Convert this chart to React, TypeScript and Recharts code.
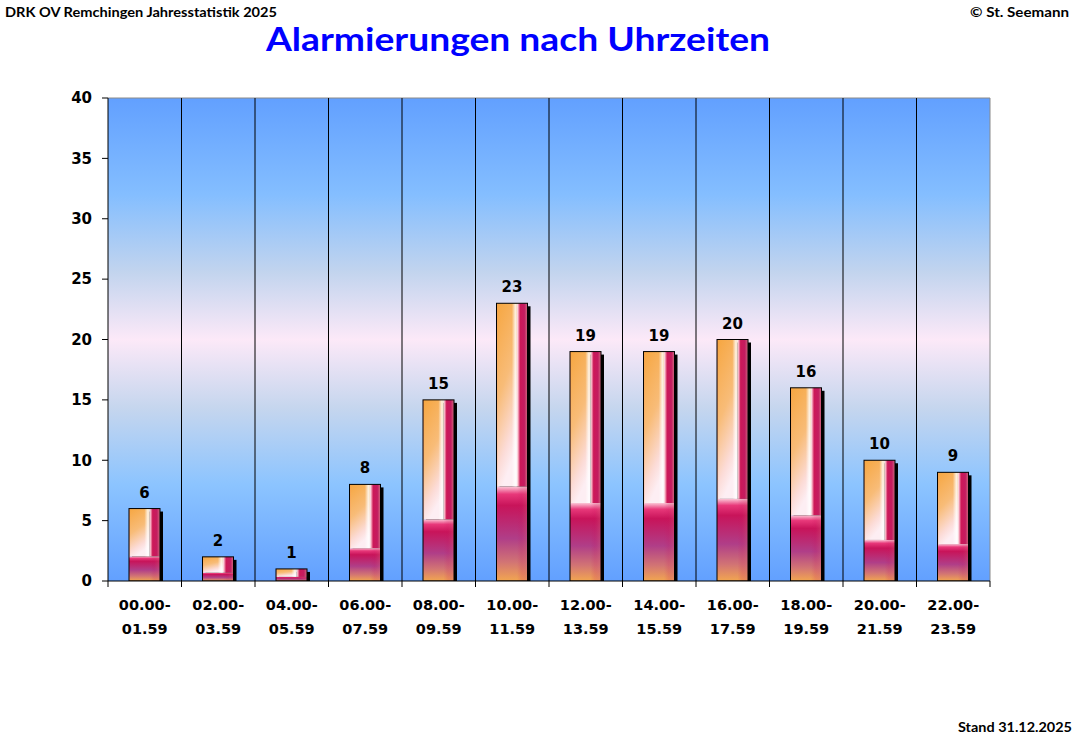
import React from "react";
import { BarChart, Bar, XAxis, YAxis, CartesianGrid, LabelList } from "recharts";

const categories = ["00.00-01.59", "02.00-03.59", "04.00-05.59", "06.00-07.59", "08.00-09.59", "10.00-11.59", "12.00-13.59", "14.00-15.59", "16.00-17.59", "18.00-19.59", "20.00-21.59", "22.00-23.59"];
const alarmierungen = [6, 2, 1, 8, 15, 23, 19, 19, 20, 16, 10, 9];
const yTicks = [0, 5, 10, 15, 20, 25, 30, 35, 40];

const data = categories.map((c, i) => ({ cat: c, value: alarmierungen[i] }));

const FONT = "'DejaVu Sans', Verdana, sans-serif";
const TFONT = "Lato, 'Open Sans', sans-serif";

const BarShape = (props: any) => {
  const { x, y, width, height } = props;
  if (!height || height <= 0) return null;
  const sx = 0.66;
  const sy = 0.66;
  const w1 = width * sx;
  const h1 = height * sy;
  return (
    <g>
      <rect x={x + 3} y={y + 3} width={width} height={height - 3} fill="#000" />
      <rect x={x} y={y} width={w1} height={h1} fill="url(#gTL)" />
      <rect x={x} y={y} width={w1} height={h1} fill="url(#gTLh)" />
      <rect x={x + w1} y={y} width={width - w1} height={h1} fill="url(#gR)" />
      <rect x={x} y={y + h1} width={width} height={height - h1} fill="url(#gB)" />
      <rect x={x + w1} y={y + h1} width={width - w1} height={height - h1} fill="url(#gBR)" />
      <rect x={x} y={y} width={width} height={height} fill="none" stroke="#000" strokeWidth={1} />
    </g>
  );
};

const ValueLabel = (props: any) => {
  const { x, y, width, value } = props;
  return (
    <text x={x + width / 2} y={y - 11} textAnchor="middle" fontFamily={FONT} fontWeight="bold" fontSize={15} fill="#000">
      {value}
    </text>
  );
};

const CatTick = (props: any) => {
  const { x, y, payload, width, visibleTicksCount, index } = props;
  const [a, b] = String(payload.value).split("-");
  const half = width / (visibleTicksCount || categories.length) / 2;
  const isLast = index === (visibleTicksCount || categories.length) - 1;
  return (
    <g>
      <line x1={x - half} x2={x - half} y1={y} y2={y + 6} stroke="#000" strokeWidth={1} />
      {isLast && <line x1={x + half} x2={x + half} y1={y} y2={y + 6} stroke="#000" strokeWidth={1} />}
      <text x={x} y={y + 29} textAnchor="middle" fontFamily={FONT} fontWeight="bold" fontSize={14.5} fill="#000">
        {a + "-"}
      </text>
      <text x={x} y={y + 53} textAnchor="middle" fontFamily={FONT} fontWeight="bold" fontSize={14.5} fill="#000">
        {b}
      </text>
    </g>
  );
};

const innerLines = (p: any) => {
  const o = p.offset;
  const n = categories.length;
  return categories.slice(1).map((_, i) => o.left + (o.width * (i + 1)) / n);
};
const rightLine = (p: any) => [p.offset.left + p.offset.width];
const topLine = (p: any) => [p.offset.top];

export default function App() {
  return (
    <div style={{ position: "absolute", left: 0, top: 0, width: 1074, height: 744, background: "#fff" }}>
      <svg width={0} height={0} style={{ position: "absolute" }}>
        <defs>
          <linearGradient id="bg" x1="0" y1="0" x2="0" y2="1">
            <stop offset="0" stopColor="#62a0ff" />
            <stop offset="0.2" stopColor="#84beff" />
            <stop offset="0.36" stopColor="#c2d4ee" />
            <stop offset="0.5" stopColor="#fce9f8" />
            <stop offset="0.64" stopColor="#c6d6ee" />
            <stop offset="0.8" stopColor="#8cc4ff" />
            <stop offset="1" stopColor="#62a0ff" />
          </linearGradient>
          <linearGradient id="gTL" x1="0" y1="0" x2="0.3" y2="1">
            <stop offset="0" stopColor="#f6a640" />
            <stop offset="0.5" stopColor="#f8bc78" />
            <stop offset="0.85" stopColor="#fcdcd8" />
            <stop offset="1" stopColor="#fdeef3" />
          </linearGradient>
          <linearGradient id="gTLh" x1="0" y1="0" x2="1" y2="0">
            <stop offset="0" stopColor="#f07090" stopOpacity="0.5" />
            <stop offset="0.08" stopColor="#f6a640" stopOpacity="0" />
            <stop offset="0.75" stopColor="#ffffff" stopOpacity="0" />
            <stop offset="0.92" stopColor="#ffffff" stopOpacity="0.8" />
            <stop offset="1" stopColor="#ffffff" stopOpacity="0.6" />
          </linearGradient>
          <linearGradient id="gR" x1="0" y1="0" x2="1" y2="0">
            <stop offset="0" stopColor="#fff2f4" />
            <stop offset="0.12" stopColor="#f5a6ba" />
            <stop offset="0.3" stopColor="#cc1858" />
            <stop offset="0.7" stopColor="#c41c60" />
            <stop offset="1" stopColor="#cf6c80" />
          </linearGradient>
          <linearGradient id="gB" x1="0" y1="0" x2="0" y2="1">
            <stop offset="0" stopColor="#fbc6d6" />
            <stop offset="0.08" stopColor="#e8387a" />
            <stop offset="0.2" stopColor="#c8145a" />
            <stop offset="0.55" stopColor="#b03e88" />
            <stop offset="0.8" stopColor="#d27474" />
            <stop offset="1" stopColor="#f2a650" />
          </linearGradient>
          <linearGradient id="gBR" x1="0" y1="0" x2="1" y2="0">
            <stop offset="0" stopColor="#c8145a" stopOpacity="0" />
            <stop offset="0.4" stopColor="#c8145a" stopOpacity="0.15" />
            <stop offset="1" stopColor="#d06878" stopOpacity="0.35" />
          </linearGradient>
        </defs>
      </svg>
      <BarChart
        width={1074}
        height={744}
        data={data}
        margin={{ top: 98, right: 84, left: 0, bottom: 63 }}
        barCategoryGap={0}
      >
        <CartesianGrid
          fill="url(#bg)"
          stroke="#8a8a8a"
          horizontalCoordinatesGenerator={topLine}
          verticalCoordinatesGenerator={rightLine}
        />
        <CartesianGrid horizontal={false} stroke="#000" verticalCoordinatesGenerator={innerLines} />
        <XAxis
          dataKey="cat"
          tickLine={false}
          axisLine={{ stroke: "#000", strokeWidth: 1 }}
          tickSize={0}
          tickMargin={0}
          height={100}
          interval={0}
          tick={<CatTick />}
        />
        <YAxis
          domain={[0, 40]}
          ticks={yTicks}
          interval={0}
          width={108}
          tickSize={6}
          tickMargin={10}
          tickLine={{ stroke: "#000" }}
          axisLine={{ stroke: "#000" }}
          tick={{ fill: "#000", fontFamily: FONT, fontWeight: "bold", fontSize: 15 }}
          allowDataOverflow
        />
        <Bar dataKey="value" barSize={31} shape={<BarShape />} isAnimationActive={false}>
          <LabelList dataKey="value" content={<ValueLabel />} />
        </Bar>
      </BarChart>
      <svg width={1074} height={744} style={{ position: "absolute", left: 0, top: 0, pointerEvents: "none" }}>
        <text x={5} y={17} fontFamily={TFONT} fontWeight="bold" fontSize={14} fill="#000" textLength={272} lengthAdjust="spacingAndGlyphs">
          DRK OV Remchingen Jahresstatistik 2025
        </text>
        <text x={970} y={17} fontFamily={TFONT} fontWeight="bold" fontSize={14} fill="#000" textLength={99} lengthAdjust="spacingAndGlyphs">
          © St. Seemann
        </text>
        <text x={266} y={51} fontFamily={TFONT} fontWeight="bold" fontSize={32} fill="#0000ff" textLength={504} lengthAdjust="spacingAndGlyphs">
          Alarmierungen nach Uhrzeiten
        </text>
        <text x={958} y={732} fontFamily={TFONT} fontWeight="bold" fontSize={14} fill="#000" textLength={114} lengthAdjust="spacingAndGlyphs">
          Stand 31.12.2025
        </text>
      </svg>
    </div>
  );
}
